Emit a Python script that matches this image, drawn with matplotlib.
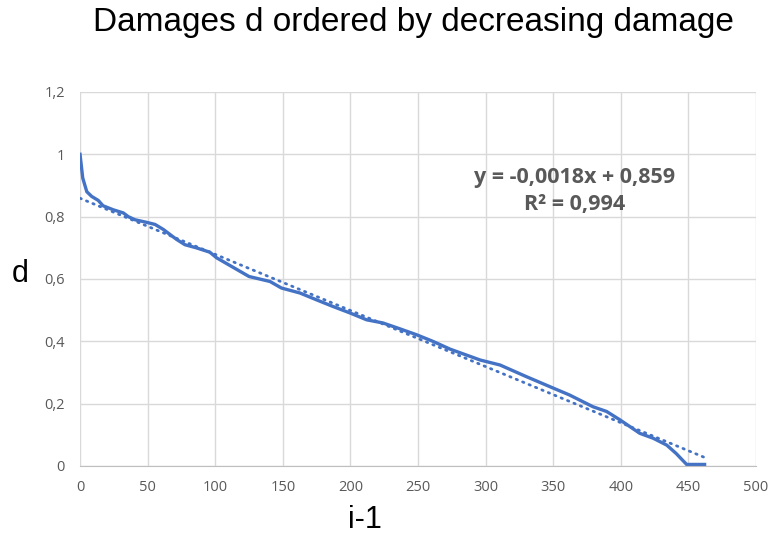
import matplotlib.pyplot as plt
from matplotlib.ticker import FuncFormatter

plt.rcParams["font.family"] = ["Open Sans", "DejaVu Sans"]

# Damage values d against rank i-1 (sorted, decreasing)
rank = [0, 2, 5, 8.6, 13.5, 17, 24.6, 32, 35.7, 40.7, 49, 55.5, 61.6, 71.4, 77.6, 86, 96, 101,
        125, 140.5, 149, 162.7, 175, 187, 199.7, 212, 224, 236.7, 249, 261, 273.7,
        296, 310.7, 330, 350, 362, 379.5, 389.5, 399.4, 414, 424, 434, 441, 448.7, 462]
damage = [1.0, 0.924, 0.88, 0.865, 0.852, 0.835, 0.822, 0.812, 0.80, 0.79, 0.782, 0.775, 0.759, 0.727,
          0.71, 0.70, 0.686, 0.668,
          0.608, 0.592, 0.571, 0.555, 0.533, 0.512, 0.491, 0.469, 0.459, 0.44, 0.421, 0.40, 0.375,
          0.34, 0.324, 0.287, 0.25, 0.228, 0.19, 0.175, 0.148, 0.105, 0.089, 0.067, 0.04, 0.005, 0.005]

# Linear trend line
slope = -0.0018
intercept = 0.859
r2 = 0.994
trend_x = [0, 462]

blue = "#4472C4"
grey = "#595959"

fig = plt.figure(figsize=(7.71, 5.36), dpi=100)
ax = fig.add_axes([0.1038, 0.1306, 0.8767, 0.6978])

ax.plot(rank, damage, color=blue, lw=2.4, solid_joinstyle="round")
ax.plot(trend_x, [slope * x + intercept for x in trend_x], color=blue, lw=2,
        linestyle=(0, (0.5, 2.0)), dash_capstyle="round")

ax.set_xlim(0, 500)
ax.set_ylim(0, 1.2)
ax.set_xticks(range(0, 501, 50))
ax.set_yticks([0, 0.2, 0.4, 0.6, 0.8, 1.0, 1.2])
ax.yaxis.set_major_formatter(FuncFormatter(lambda v, p: f"{v:g}".replace(".", ",")))

ax.grid(True, color="#D9D9D9", lw=1)
ax.set_axisbelow(True)
for s in ["top", "right", "left"]:
    ax.spines[s].set_visible(False)
ax.spines["bottom"].set_color("#BFBFBF")
ax.tick_params(length=0, labelsize=10.5, colors=grey)
ax.tick_params(axis="x", pad=10)
ax.tick_params(axis="y", pad=11)

fig.text(0.536, 0.958, "Damages d ordered by decreasing damage", ha="center", va="center",
         fontsize=24, family="Liberation Sans")
fig.text(0.026, 0.489, "d", ha="center", va="center", fontsize=22, family="Liberation Sans")
fig.text(0.473, 0.03, "i-1", ha="center", va="center", fontsize=22, family="Liberation Sans")

eq = f"y = {slope:g}x + {intercept:g}".replace(".", ",")
ax.text(0.731, 0.735, eq + "\n" + f"R² = {r2:g}".replace(".", ","), transform=ax.transAxes,
        ha="center", va="center", fontsize=15.5, fontweight="bold", color=grey, linespacing=1.4)

fig.savefig("out.png", dpi=100)
